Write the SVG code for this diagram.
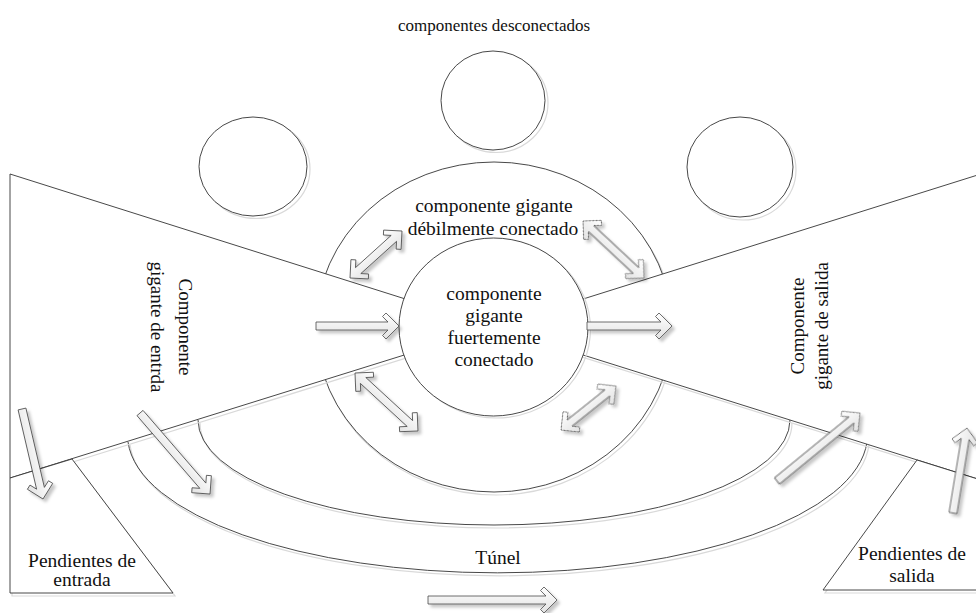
<svg xmlns="http://www.w3.org/2000/svg" width="976" height="613" viewBox="0 0 976 613">
<style>
.sh{fill:none;stroke:#d9d9d9;stroke-width:1.2}
.ln{fill:#fff;stroke:#333;stroke-width:0.9}
.nf{fill:none;stroke:#333;stroke-width:0.9}
.t{font-family:"Liberation Serif","Times New Roman",serif;font-size:19.5px;fill:#111;text-anchor:middle}
.tt{font-family:"Liberation Serif","Times New Roman",serif;font-size:17px;fill:#111;text-anchor:middle}
.ar{fill:url(#ag);stroke:#4a4a4a;stroke-width:0.8;stroke-linejoin:miter}
</style>
<defs>
<linearGradient id="ag" gradientUnits="userSpaceOnUse" x1="0" y1="-13" x2="0" y2="13">
<stop offset="0" stop-color="#ffffff"/>
<stop offset="1" stop-color="#e2e2e2"/>
</linearGradient>
<filter id="ds" x="-10%" y="-10%" width="120%" height="120%">
<feDropShadow dx="3" dy="3" stdDeviation="1.5" flood-color="#000" flood-opacity="0.22"/>
</filter>
</defs>
<rect width="976" height="613" fill="#fff"/>

<text class="tt" x="494" y="31">componentes desconectados</text>

<g id="disc1"><ellipse class="sh" cx="256" cy="169" rx="54" ry="49.5"/><ellipse class="ln" cx="253" cy="166.5" rx="54" ry="49.5"/></g>
<g id="disc2"><ellipse class="sh" cx="496" cy="103" rx="52" ry="49.5"/><ellipse class="ln" cx="493" cy="100.5" rx="52" ry="49.5"/></g>
<g id="disc3"><ellipse class="sh" cx="743" cy="170" rx="53" ry="50"/><ellipse class="ln" cx="740" cy="167" rx="53" ry="50"/></g>

<g id="wcc">
<ellipse class="sh" cx="496" cy="330" rx="178" ry="165"/>
<ellipse class="ln" cx="494" cy="327" rx="178" ry="165"/>
</g>

<g id="tunnel">
<path class="sh" d="M200,423 A296,105 0 0 0 792,423"/>
<path class="nf" d="M198,420 A296,105 0 0 0 790,420"/>
<path class="sh" d="M130,445 A370,138 0 0 0 869,445"/>
<path class="nf" d="M128,442 A370,138 0 0 0 867,442"/>
</g>

<g id="in">
<polygon class="sh" points="12,177 496,330 12,481"/>
<polygon class="ln" points="10,174 494,327 10,478"/>
</g>
<g id="out">
<polygon class="sh" points="496,330 1002,171 1002,489"/>
<polygon class="ln" points="494,327 1000,168 1000,486"/>
</g>
<g id="tendril-in">
<polygon class="sh" points="12,481 74,462 175,596 12,596"/>
<polygon class="ln" points="10,478 72,459 173,593 10,593"/>
</g>
<g id="tendril-out">
<polygon class="sh" points="919,463 825,593 1002,593 1002,489"/>
<polygon class="ln" points="917,460 823,590 1000,590 1000,486"/>
</g>

<g id="scc">
<ellipse class="sh" cx="496" cy="329" rx="94.5" ry="89"/>
<ellipse class="ln" cx="493.5" cy="327" rx="94.5" ry="89"/>
</g>

<g id="labels">
<text class="t" x="494" y="212">componente gigante</text>
<text class="t" x="493" y="235">débilmente conectado</text>
<text class="t" x="494" y="300">componente</text>
<text class="t" x="494" y="322">gigante</text>
<text class="t" x="494" y="344">fuertemente</text>
<text class="t" x="494" y="366">conectado</text>
<text class="t" style="font-size:19px" transform="translate(179,327) rotate(90)">Componente</text>
<text class="t" style="font-size:19px" transform="translate(151,327) rotate(90)">gigante de entrda</text>
<text class="t" style="font-size:19px" transform="translate(804,326) rotate(-90)">Componente</text>
<text class="t" style="font-size:19px" transform="translate(828,326) rotate(-90)">gigante de salida</text>
<text class="t" x="82" y="567">Pendientes de</text>
<text class="t" x="82" y="586">entrada</text>
<text class="t" x="912" y="560">Pendientes de</text>
<text class="t" x="912" y="582">salida</text>
<text class="t" x="498" y="564">Túnel</text>
</g>

<g id="connectors" filter="url(#ds)">
<path class="ar" transform="translate(316,326)" d="M0,-4 L72,-4 L66.5,-9.5 L70,-13 L83,0 L70,13 L66.5,9.5 L72,4 L0,4 Z"/>
<path class="ar" transform="translate(587,326)" d="M0,-4 L74,-4 L68.5,-9.5 L72,-13 L85,0 L72,13 L68.5,9.5 L74,4 L0,4 Z"/>
<path class="ar" transform="translate(428,600)" d="M0,-4 L118,-4 L112.5,-9.5 L116,-13 L129,0 L116,13 L112.5,9.5 L118,4 L0,4 Z"/>
<path class="ar" transform="translate(22,409) rotate(76.87)" d="M0,-4 L81.4,-4 L75.9,-9.5 L79.4,-13 L92.4,0 L79.4,13 L75.9,9.5 L81.4,4 L0,4 Z"/>
<path class="ar" transform="translate(140,413) rotate(49.17)" d="M0,-4 L96.1,-4 L90.6,-9.5 L94.1,-13 L107.1,0 L94.1,13 L90.6,9.5 L96.1,4 L0,4 Z"/>
<path class="ar" transform="translate(777,481) rotate(-39.33)" d="M0,-4 L96.3,-4 L90.8,-9.5 L94.3,-13 L107.3,0 L94.3,13 L90.8,9.5 L96.3,4 L0,4 Z"/>
<path class="ar" transform="translate(953,513) rotate(-80.65)" d="M0,-4 L75.1,-4 L69.6,-9.5 L73.1,-13 L86.1,0 L73.1,13 L69.6,9.5 L75.1,4 L0,4 Z"/>
<path class="ar" transform="translate(350,278) rotate(-42.1)" d="M11,-4 L59.1,-4 L53.6,-9.5 L57.1,-13 L70.1,0 L57.1,13 L53.6,9.5 L59.1,4 L11,4 L16.5,9.5 L13,13 L0,0 L13,-13 L16.5,-9.5 Z"/>
<path class="ar" transform="translate(583,221) rotate(43.05)" d="M11,-4 L72.5,-4 L67,-9.5 L70.5,-13 L83.5,0 L70.5,13 L67,9.5 L72.5,4 L11,4 L16.5,9.5 L13,13 L0,0 L13,-13 L16.5,-9.5 Z"/>
<path class="ar" transform="translate(355,373) rotate(42.63)" d="M11,-4 L74.6,-4 L69.1,-9.5 L72.6,-13 L85.6,0 L72.6,13 L69.1,9.5 L74.6,4 L11,4 L16.5,9.5 L13,13 L0,0 L13,-13 L16.5,-9.5 Z"/>
<path class="ar" transform="translate(561,430) rotate(-38.66)" d="M11,-4 L59.4,-4 L53.9,-9.5 L57.4,-13 L70.4,0 L57.4,13 L53.9,9.5 L59.4,4 L11,4 L16.5,9.5 L13,13 L0,0 L13,-13 L16.5,-9.5 Z"/>
</g>
</svg>
